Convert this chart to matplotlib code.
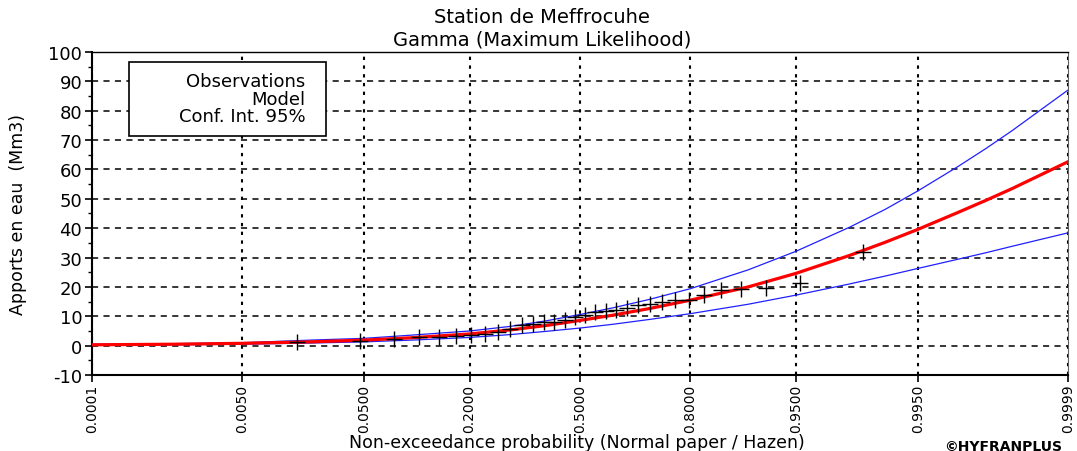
import matplotlib.pyplot as plt
import numpy as np
from statistics import NormalDist
from matplotlib.patches import Rectangle
from matplotlib.ticker import MultipleLocator

plt.rcParams['font.family'] = ['DejaVu Sans']
plt.rcParams['axes.unicode_minus'] = False

# observed values, sorted (Mm3), plotted at Hazen positions
obs = [1.3, 1.5, 2.2, 3.1, 3.1, 3.4, 3.5, 4.1, 4.8, 5.6, 6.9, 7.5, 8.2, 8.2, 8.6, 9.9,
       10.3, 11.3, 11.7, 12.0, 12.9, 13.8, 14.3, 14.9, 15.5, 15.5, 17.3, 18.9, 19.2, 19.5,
       21.2, 32.0]

# fitted gamma quantiles and 95% confidence limits
prob = [0.0001, 0.001, 0.005, 0.02, 0.05, 0.1, 0.2, 0.3, 0.4, 0.5, 0.6, 0.7, 0.8, 0.9,
        0.95, 0.98, 0.99, 0.995, 0.998, 0.999, 0.9995, 0.9999]
model = [0.3, 0.5, 0.8, 1.3, 1.9, 2.7, 4.0, 5.4, 6.9, 8.6, 10.4, 12.6, 15.5, 20.0,
         24.6, 30.7, 35.2, 39.6, 45.3, 49.4, 53.4, 62.6]
ci_high = [0.5, 0.7, 1.0, 1.9, 2.5, 3.6, 5.0, 6.6, 8.5, 10.6, 12.9, 15.7, 19.4, 25.8,
           32.1, 40.3, 46.4, 52.7, 60.9, 67.0, 73.1, 87.0]
ci_low = [0.15, 0.3, 0.5, 0.9, 1.3, 1.9, 2.8, 3.8, 4.9, 6.0, 7.3, 8.9, 10.9, 14.1,
          17.2, 21.0, 23.7, 26.3, 29.4, 31.6, 33.8, 38.4]

tick_probs = [0.0001, 0.005, 0.05, 0.2, 0.5, 0.8, 0.95, 0.995, 0.9999]

nd = NormalDist()
_ppf = np.vectorize(lambda p: nd.inv_cdf(min(max(p, 1e-12), 1 - 1e-12)), otypes=[float])
_cdf = np.vectorize(nd.cdf, otypes=[float])


def fwd(p):
    return _ppf(np.asarray(p, dtype=float))


def inv(z):
    return _cdf(np.asarray(z, dtype=float))


n = len(obs)
hazen = [(i - 0.5) / n for i in range(1, n + 1)]

fig = plt.figure(figsize=(10.77, 4.52), dpi=100)
ax = fig.add_axes([0.0854, 0.168, 0.9062, 0.715])
ax.set_xscale('function', functions=(fwd, inv))

ax.plot(prob, ci_high, color='#2020ff', lw=0.9, zorder=3)
ax.plot(prob, ci_low, color='#2020ff', lw=0.9, zorder=3)
ax.plot(prob, model, color='#ff0000', lw=2.3, zorder=4)
ax.plot(hazen, obs, ls='none', marker='+', color='black', ms=11, mew=1.0, zorder=5)

ax.set_xlim(0.0001, 0.9999)
ax.set_ylim(-10, 100)
ax.set_xticks(tick_probs)
ax.set_xticklabels(['%.4f' % p for p in tick_probs], rotation=90, fontsize=10)
ax.xaxis.set_minor_locator(plt.NullLocator())
ax.yaxis.set_major_locator(MultipleLocator(10))
ax.yaxis.set_minor_locator(MultipleLocator(5))
ax.tick_params(axis='y', which='major', labelsize=13, length=5, width=1.2, pad=2)
ax.tick_params(axis='y', which='minor', length=3, width=1)
ax.tick_params(axis='x', length=5, width=1.2, pad=1)

ax.yaxis.grid(True, linestyle=(0, (4, 3.5)), color='black', lw=1.1)
ax.xaxis.grid(True, linestyle=(0, (1.6, 2.6)), color='black', lw=1.5)
ax.set_axisbelow(True)

for side in ['left', 'bottom']:
    ax.spines[side].set_linewidth(1.5)
ax.spines['top'].set_linewidth(1.0)
ax.spines['right'].set_color('#606060')

# legend box (text only, right aligned)
ax.add_patch(Rectangle((0.038, 0.740), 0.202, 0.229, transform=ax.transAxes,
                       fc='white', ec='black', lw=1.2, zorder=6))
ax.text(0.219, 0.855, 'Observations\nModel\nConf. Int. 95%', transform=ax.transAxes,
        ha='right', va='center', multialignment='right', fontsize=13,
        linespacing=0.98, zorder=7)

fig.text(0.503, 0.961, 'Station de Meffrocuhe', ha='center', va='center', fontsize=14)
fig.text(0.503, 0.911, 'Gamma (Maximum Likelihood)', ha='center', va='center', fontsize=14)
fig.text(0.017, 0.525, 'Apports en eau  (Mm3)', rotation=90, ha='center', va='center',
         fontsize=12.5)
fig.text(0.536, 0.021, 'Non-exceedance probability (Normal paper / Hazen)',
         ha='center', va='center', fontsize=12.5)
fig.text(0.986, 0.011, '©HYFRANPLUS', ha='right', va='center', fontsize=10, fontweight='bold')

fig.savefig('out.png', dpi=100)
